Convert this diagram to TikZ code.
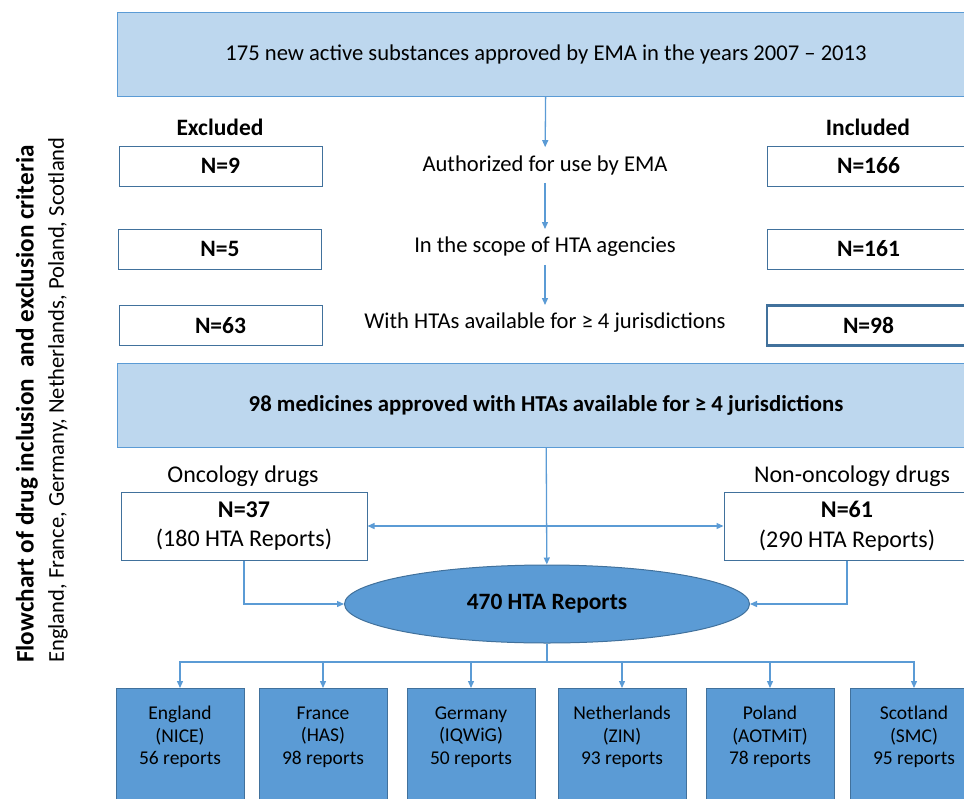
\documentclass[tikz,border=0pt]{standalone}
\usepackage{fontspec}
\setmainfont{Carlito}
\usetikzlibrary{arrows.meta,shapes.geometric}
\definecolor{lightfill}{HTML}{BDD7EE}
\definecolor{midblue}{HTML}{5B9BD5}
\definecolor{darkblue}{HTML}{41719C}
\begin{document}
\begin{tikzpicture}[x=1pt,y=-1pt,
    >={Triangle[length=7pt,width=6pt]},
    every node/.style={font=\fontsize{22.6}{27}\selectfont},
    banner/.style={draw=midblue, fill=lightfill, line width=1pt, minimum width=857, minimum height=84},
    count/.style={draw=darkblue, fill=white, line width=1pt, minimum width=203, minimum height=40, font=\fontsize{23.5}{28}\selectfont\bfseries},
    stage/.style={inner sep=8pt},
    group/.style={draw=darkblue, fill=white, line width=1pt, minimum width=246, minimum height=68, align=center, font=\fontsize{24}{29.5}\selectfont},
    pool/.style={ellipse, draw=darkblue, fill=midblue, line width=1pt, minimum width=405, minimum height=78, inner sep=0pt, font=\fontsize{23.4}{28}\selectfont\bfseries},
    country/.style={draw=darkblue, fill=midblue, line width=1pt, minimum width=128, minimum height=116, anchor=north, align=center, font=\fontsize{19.5}{22.5}\selectfont},
    link/.style={draw=midblue, line width=1.3pt}]
    \useasboundingbox (0,0) rectangle (964,798);
    \clip (0,0) rectangle (964,798);

    % Titolo
    \node[rotate=90, anchor=west, inner sep=0pt, font=\fontsize{25.2}{30}\selectfont\bfseries] (title) at (27,663) {Flowchart of drug inclusion\ \ and exclusion criteria};
    \node[rotate=90, anchor=west, inner sep=0pt, font=\fontsize{22.6}{27}\selectfont] (subtitle) at (58,663) {England, France, Germany, Netherlands, Poland, Scotland};

    % Nodi
    \node[banner] (start) at (546,54) {175 new active substances approved by EMA in the years 2007 – 2013};
    \node[font=\fontsize{23.5}{28}\selectfont\bfseries] (excl) at (220,127) {Excluded};
    \node[font=\fontsize{23.5}{28}\selectfont\bfseries] (incl) at (868,127) {Included};

    \node[count] (ex1) at (220.5,166) {N=9};
    \node[stage] (auth) at (545,165) {Authorized for use by EMA};
    \node[count] (in1) at (868.5,166) {N=166};

    \node[count] (ex2) at (220,249) {N=5};
    \node[stage] (scope) at (545,247) {In the scope of HTA agencies};
    \node[count] (in2) at (868.5,249) {N=161};

    \node[count] (ex3) at (220.5,325.5) {N=63};
    \node[stage] (avail) at (545,323) {With HTAs available for ≥ 4 jurisdictions};
    \node[count, line width=2.2pt] (in3) at (868.5,325.5) {N=98};

    \node[banner, font=\fontsize{22.8}{27}\selectfont\bfseries] (meds) at (546,405.5) {98 medicines approved with HTAs available for ≥ 4 jurisdictions};

    \node[font=\fontsize{24}{29}\selectfont] (onclab) at (243,476) {Oncology drugs};
    \node[font=\fontsize{24}{29}\selectfont] (nonlab) at (852,476) {Non-oncology drugs};
    \node[group] (onc) at (244,526) {\textbf{N=37}\\(180 HTA Reports)};
    \node[group] (nonc) at (847,526) {\textbf{N=61}\\(290 HTA Reports)};

    \node[pool] (total) at (547,604) {470 HTA Reports};
    \coordinate (fork) at (547,662);

    \node[country] (eng) at (180,688) {England\\(NICE)\\56 reports\\\mbox{}};
    \node[country] (fra) at (323,688) {France\\(HAS)\\98 reports\\\mbox{}};
    \node[country] (ger) at (471,688) {Germany\\(IQWiG)\\50 reports\\\mbox{}};
    \node[country] (ned) at (622,688) {Netherlands\\(ZIN)\\93 reports\\\mbox{}};
    \node[country] (pol) at (770,688) {Poland\\(AOTMiT)\\78 reports\\\mbox{}};
    \node[country] (sco) at (914,688) {Scotland\\(SMC)\\95 reports\\\mbox{}};

    % Archi
    \draw[link, ->] (start) -- (auth);
    \draw[link, ->] (auth) -- (scope);
    \draw[link, ->] (scope) -- (avail);
    \draw[link, ->] (meds) -- (total);
    \draw[link, <->] (onc) -- (nonc);
    \draw[link, ->] (onc) |- (total);
    \draw[link, ->] (nonc) |- (total);
    \draw[link] (total) -- (fork);
    \draw[link, ->] (fork) -| (eng);
    \draw[link, ->] (fork) -| (fra);
    \draw[link, ->] (fork) -| (ger);
    \draw[link, ->] (fork) -| (ned);
    \draw[link, ->] (fork) -| (pol);
    \draw[link, ->] (fork) -| (sco);
\end{tikzpicture}
\end{document}
